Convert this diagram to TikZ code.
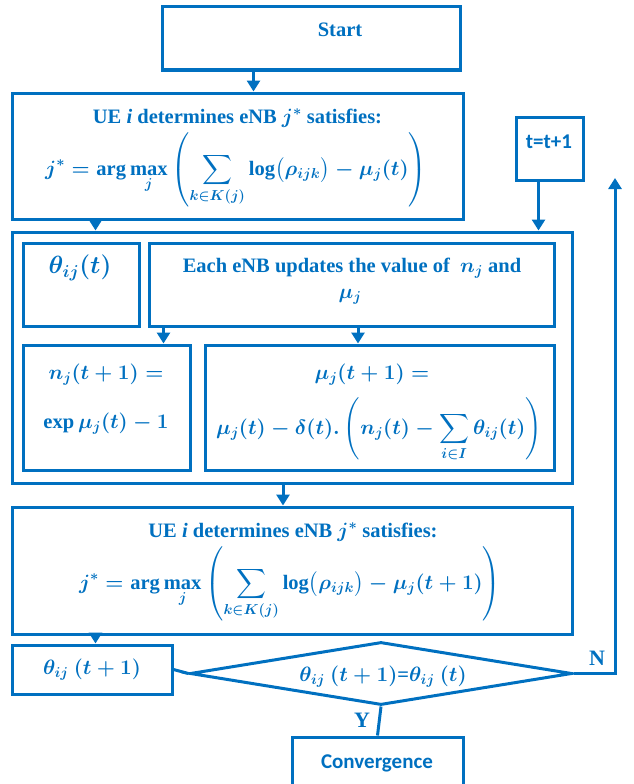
\documentclass[tikz,border=0pt]{standalone}
\usepackage{amsmath}
\usepackage{fontspec}
\setmainfont{Liberation Serif}
\newfontfamily\calib{Carlito}
\usetikzlibrary{shapes.geometric,arrows.meta,calc}
\definecolor{ublue}{HTML}{0070C0}
\begin{document}
\begin{tikzpicture}[x=1pt,y=-1pt,
  box/.style={draw=ublue,line width=3pt,rectangle,inner sep=0pt},
  txt/.style={text=ublue,inner sep=0pt,font=\fontsize{20.5}{24}\selectfont\bfseries\boldmath},
  sans/.style={text=ublue,inner sep=0pt,font=\fontsize{21}{25}\calib\bfseries},
  con/.style={draw=ublue,line width=3pt},
  arr/.style={con,-{Triangle[width=13pt,length=11pt]}},
  lbl/.style={text=ublue,font=\fontsize{22}{26}\selectfont\bfseries}]
\useasboundingbox (0,0) rectangle (633,784);

% boxes
\node[box,minimum width=298,minimum height=63] (start) at (311,38.5) {};
\node[box,minimum width=451,minimum height=126] (ue1) at (237.5,156) {};
\node[box,minimum width=67,minimum height=63] (tinc) at (549.5,148.5) {};
\node[box,minimum width=560,minimum height=251] (outer) at (292,357.5) {};
\node[box,minimum width=116,minimum height=83] (th) at (81,284.5) {};
\node[box,minimum width=405,minimum height=83] (enb) at (351.5,284.5) {};
\node[box,minimum width=167,minimum height=125] (nj) at (106.5,407.5) {};
\node[box,minimum width=349,minimum height=125] (mu) at (379.5,407.5) {};
\node[box,minimum width=560,minimum height=127] (ue2) at (292,570.5) {};
\node[box,minimum width=160,minimum height=49] (th1) at (92,669.5) {};
\node[box,diamond,minimum width=382,minimum height=63,shape aspect=6] (dia) at (381,673.5) {};
\node[box,minimum width=171,minimum height=52] (conv) at (377.5,763) {};

% texts
\node[txt] (tstart) at (340,30) {Start};
\node[txt] (tue1a) at (237.5,118) {UE \textit{i} determines eNB $j^{*}$ satisfies:};
\node[txt] (tue1b) at (236,170)
 {$\displaystyle j^{*}=\arg\max_{j}\left(\sum_{k\in K(j)}\log\bigl(\rho_{ijk}\bigr)-\mu_j(t)\right)$};
\node[sans] (ttinc) at (549,142) {t=t+1};
\node[txt,font=\fontsize{27}{30}\selectfont\bfseries\boldmath] (tth) at (80,268) {$\theta_{ij}(t)$};
\node[txt] (tenba) at (352,268) {Each eNB updates the value of \ $n_j$ and};
\node[txt] (tenbb) at (350,297) {$\mu_j$};
\node[txt] (tnja) at (106,375) {$n_j(t+1) =$};
\node[txt] (tnjb) at (106,424) {$\exp\mu_j(t) - 1$};
\node[txt] (tmua) at (372,375) {$\mu_j(t+1) =$};
\node[txt] (tmub) at (379,430)
 {$\displaystyle \mu_j(t)-\delta(t).\left(n_j(t)-\sum_{i\in I}\theta_{ij}(t)\right)$};
\node[txt] (tue2a) at (293,532) {UE \textit{i} determines eNB $j^{*}$ satisfies:};
\node[txt] (tue2b) at (290,584)
 {$\displaystyle j^{*}=\arg\max_{j}\left(\sum_{k\in K(j)}\log\bigl(\rho_{ijk}\bigr)-\mu_j(t+1)\right)$};
\node[txt] (tth1) at (92,670) {$\theta_{ij}\ (t+1)$};
\node[txt] (tdia) at (383,677) {$\theta_{ij}\ (t+1)$=$\theta_{ij}\ (t)$};
\node[sans] (tconv) at (377,763) {Convergence};

\coordinate (ret) at (615,178);

% connectors
\draw[arr] ([xshift=93pt]start.south west) -- ([xshift=93pt]start.south west |- ue1.north);
\draw[arr] ([xshift=85pt]ue1.south west) -- ([xshift=85pt]outer.north west);
\draw[arr] ([xshift=-11pt]tinc.south) -- ([xshift=-11pt]tinc.south |- outer.north);
\draw[arr] ([xshift=16pt]enb.south west) -- ([xshift=16pt]enb.south west |- nj.north);
\draw[arr] ([xshift=6.5pt]enb.south) -- ([xshift=6.5pt]enb.south |- mu.north);
\draw[arr] ([xshift=-9pt]outer.south) -- ([xshift=-9pt]outer.south |- ue2.north);
\draw[arr] ([xshift=85pt]ue2.south west) -- ([xshift=85pt]ue2.south west |- th1.north);
\draw[con] (th1.east) -- (dia.west);
\draw[arr] (dia.east) -| (ret);
\draw[con] (dia.south) -- (conv.north);

\node[lbl] (nlab) at (597,658) {N};
\node[lbl] (ylab) at (362,720) {Y};
\end{tikzpicture}
\end{document}
